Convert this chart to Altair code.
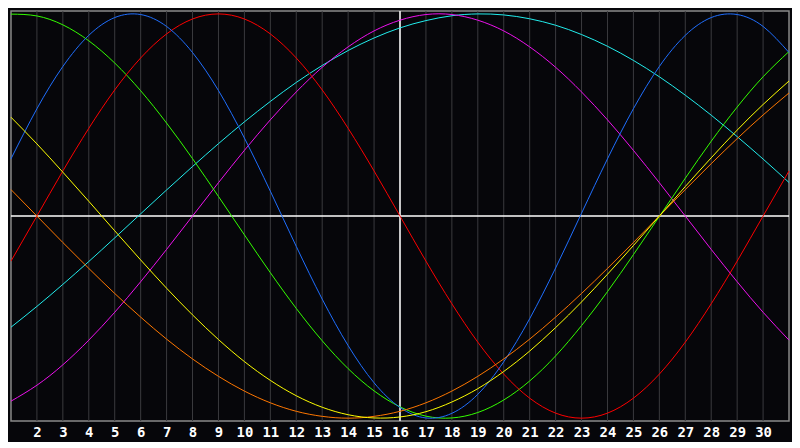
import altair as alt
import pandas as pd

days = list(range(1, 32))
tick_days = list(range(2, 31))

physical = [0.283, 0.531, 0.740, 0.894, 0.982, 0.997, 0.938, 0.809, 0.621, 0.386,
            0.123, -0.150, -0.411, -0.641, -0.825, -0.947, -0.999, -0.976, -0.882, -0.721,
            -0.508, -0.257, 0.014, 0.283, 0.531, 0.740, 0.894, 0.982, 0.997, 0.938, 0.809]
emotional = [-0.223, 0.0, 0.223, 0.434, 0.624, 0.782, 0.901, 0.975, 1.0, 0.975,
             0.901, 0.782, 0.624, 0.434, 0.223, 0.0, -0.223, -0.434, -0.624, -0.782,
             -0.901, -0.975, -1.0, -0.975, -0.901, -0.782, -0.624, -0.434, -0.223, 0.0, 0.223]
intellectual = [0.999, 0.990, 0.946, 0.867, 0.757, 0.620, 0.460, 0.284, 0.097, -0.093,
                -0.280, -0.457, -0.617, -0.755, -0.865, -0.944, -0.990, -0.999, -0.972, -0.910,
                -0.816, -0.692, -0.542, -0.374, -0.191, -0.002, 0.187, 0.370, 0.539, 0.689, 0.814]
spiritual = [-0.550, -0.447, -0.338, -0.225, -0.108, 0.011, 0.129, 0.245, 0.358, 0.466,
             0.567, 0.661, 0.745, 0.819, 0.881, 0.931, 0.967, 0.991, 1.0, 0.995,
             0.976, 0.944, 0.898, 0.840, 0.770, 0.689, 0.598, 0.499, 0.393, 0.282, 0.166]
intuition = [-0.916, -0.837, -0.736, -0.614, -0.476, -0.325, -0.165, 0.0, 0.165, 0.325,
             0.476, 0.614, 0.736, 0.837, 0.916, 0.969, 0.997, 0.997, 0.969, 0.916,
             0.837, 0.736, 0.614, 0.476, 0.325, 0.165, 0.0, -0.165, -0.325, -0.476, -0.614]
aesthetic = [0.489, 0.357, 0.217, 0.073, -0.073, -0.217, -0.357, -0.489, -0.611, -0.720,
             -0.813, -0.889, -0.946, -0.983, -0.999, -0.994, -0.968, -0.920, -0.854, -0.769,
             -0.668, -0.552, -0.425, -0.288, -0.146, 0.0, 0.146, 0.288, 0.425, 0.552, 0.668]
awareness = [0.131, 0.0, -0.131, -0.259, -0.383, -0.500, -0.609, -0.707, -0.793, -0.866,
             -0.924, -0.966, -0.991, -1.0, -0.991, -0.966, -0.924, -0.866, -0.793, -0.707,
             -0.609, -0.500, -0.383, -0.259, -0.131, 0.0, 0.131, 0.259, 0.383, 0.500, 0.609]

series_names = ["spiritual", "intuition", "intellectual", "emotional", "physical", "awareness", "aesthetic"]
series_values = [spiritual, intuition, intellectual, emotional, physical, awareness, aesthetic]
series_colors = ["#22eeee", "#ee11ee", "#33ff00", "#ff0000", "#1f6fff", "#ff7700", "#ffff00"]

rows = []
for name, vals in zip(series_names, series_values):
    for d, v in zip(days, vals):
        rows.append({"day": d, "value": v, "cycle": name})
df = pd.DataFrame(rows)

grid_df = pd.DataFrame({"day": tick_days})
hline_df = pd.DataFrame({"value": [0.0]})
vline_df = pd.DataFrame({"day": [16]})

x_scale = alt.Scale(domain=[1, 31], nice=False, zero=False)
y_scale = alt.Scale(domain=[-1.014, 1.014], nice=False, zero=False)

x_axis = alt.Axis(values=tick_days, title=None, grid=False, ticks=False, domain=False,
                  labelColor="#ffffff", labelFont="DejaVu Sans Mono", labelFontSize=14,
                  labelFontWeight="bold", labelPadding=5, format="d",
                  labelOverlap=False, labelFlush=False)

grid = alt.Chart(grid_df).mark_rule(color="#3a3a3e", strokeWidth=1).encode(
    x=alt.X("day:Q", scale=x_scale, axis=x_axis)
)

lines = alt.Chart(df).mark_line(strokeWidth=1, interpolate="natural").encode(
    x=alt.X("day:Q", scale=x_scale, axis=x_axis),
    y=alt.Y("value:Q", scale=y_scale, axis=None),
    color=alt.Color("cycle:N", scale=alt.Scale(domain=series_names, range=series_colors), legend=None),
)

hline = alt.Chart(hline_df).mark_rule(color="#ffffff", strokeWidth=1.5).encode(
    y=alt.Y("value:Q", scale=y_scale, axis=None)
)
vline = alt.Chart(vline_df).mark_rule(color="#ffffff", strokeWidth=1.5).encode(
    x=alt.X("day:Q", scale=x_scale, axis=x_axis)
)

chart = alt.layer(grid, hline, vline, lines).properties(
    width=782, height=412,
    padding=1,
    background="#06060a",
).configure_view(
    stroke="#8a8a8a", strokeWidth=1.5, fill="#06060a"
).configure_axisX(labelOverlap=False)

chart.save("out.html", embed_options={"renderer": "svg", "actions": False})
